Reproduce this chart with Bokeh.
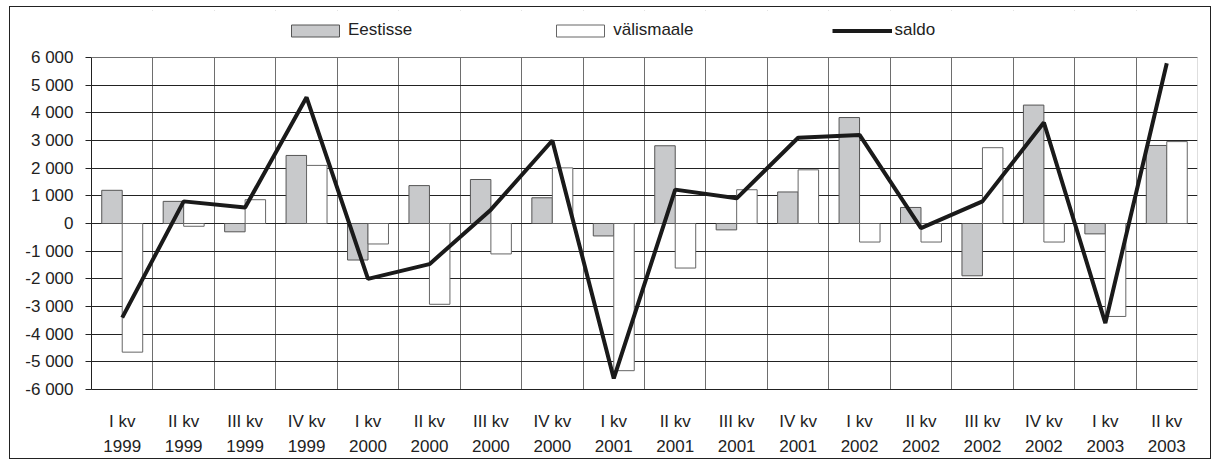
from bokeh.plotting import figure
from bokeh.models import (FactorRange, Range1d, FixedTicker, Legend, LegendItem,
                          ColumnDataSource, BoxAnnotation)
from bokeh.transform import dodge
from bokeh.embed import file_html
from bokeh.resources import INLINE

quarters = ["I kv", "II kv", "III kv", "IV kv",
            "I kv", "II kv", "III kv", "IV kv",
            "I kv", "II kv", "III kv", "IV kv",
            "I kv", "II kv", "III kv", "IV kv",
            "I kv", "II kv"]
years = ["1999", "1999", "1999", "1999",
         "2000", "2000", "2000", "2000",
         "2001", "2001", "2001", "2001",
         "2002", "2002", "2002", "2002",
         "2003", "2003"]
eestisse = [1200, 800, -300, 2460, -1320, 1370, 1590, 930, -450,
            2810, -230, 1140, 3830, 580, -1890, 4280, -375, 2820]
valismaale = [-4650, -100, 860, 2100, -740, -2920, -1100, 2010, -5320,
              -1610, 1220, 1940, -670, -670, 2740, -670, -3360, 2960]
saldo = [-3400, 800, 580, 4560, -2000, -1470, 500, 3000, -5600,
         1225, 910, 3100, 3200, -170, 800, 3650, -3600, 5790]
y_ticks = list(range(-6000, 6001, 1000))
Y_MIN, Y_MAX = -6000, 6000

categories = [f"{q}\n{y}" for q, y in zip(quarters, years)]
src = ColumnDataSource(dict(cat=categories, eest=eestisse, val=valismaale, saldo=saldo))

FONT = "Liberation Sans"
FS = "17px"

# plot area is 332 px tall; extra 47 px above it hosts the legend
PLOT_H, LEGEND_H = 332, 47
y_top = Y_MAX + (Y_MAX - Y_MIN) * LEGEND_H / PLOT_H

p = figure(width=1202, height=453, output_backend="svg", toolbar_location=None,
           x_range=FactorRange(factors=categories, range_padding=0),
           y_range=Range1d(Y_MIN, y_top),
           min_border_left=81, min_border_right=15, min_border_top=3, min_border_bottom=71,
           styles={"border": "1px solid #222", "margin-left": "9px", "margin-top": "6px"})
p.background_fill_color = "white"
p.border_fill_color = "white"
p.outline_line_color = None

r1 = p.vbar(x=dodge("cat", -1/6, range=p.x_range), top="eest", width=1/3, source=src,
            fill_color="#c8c9cb", line_color="#555555", line_width=1)
r2 = p.vbar(x=dodge("cat", 1/6, range=p.x_range), top="val", width=1/3, source=src,
            fill_color="white", line_color="#666666", line_width=1)
r3 = p.line(x="cat", y="saldo", source=src, line_color="#1a1a1a", line_width=4)

# grids
p.ygrid.ticker = FixedTicker(ticks=y_ticks)
p.ygrid.grid_line_color = "#222222"
p.ygrid.grid_line_width = 1
p.xgrid.ticker = FixedTicker(ticks=list(range(len(categories) + 1)))
p.xgrid.grid_line_color = "#6e6e6e"
p.xgrid.grid_line_width = 1

# blank the strip above the plot area (legend strip) and draw the plot-area border
p.add_layout(BoxAnnotation(bottom=Y_MAX, fill_color="white", fill_alpha=1,
                           line_alpha=0))
p.add_layout(BoxAnnotation(bottom=Y_MIN, top=Y_MAX, fill_alpha=0,
                           line_color="#222222", line_width=1))

# y axis
p.yaxis.ticker = FixedTicker(ticks=y_ticks)
p.yaxis.bounds = (Y_MIN, Y_MAX)
p.yaxis.major_label_overrides = {t: f"{t:,}".replace(",", " ") for t in y_ticks}
p.yaxis.minor_tick_line_color = None
p.yaxis.major_tick_out = 6
p.yaxis.major_tick_in = 0
p.yaxis.major_label_standoff = 12
p.yaxis.axis_line_color = "#222"
p.yaxis.major_tick_line_color = "#222"
p.yaxis.major_label_text_font = FONT
p.yaxis.major_label_text_font_size = FS
p.yaxis.major_label_text_color = "#222"

# x axis
p.xaxis.major_tick_line_color = None
p.xaxis.major_tick_out = 0
p.xaxis.major_label_standoff = 22
p.xaxis.axis_line_color = "#222"
p.xaxis.major_label_text_font = FONT
p.xaxis.major_label_text_font_size = FS
p.xaxis.major_label_text_color = "#222"
p.xaxis.major_label_text_line_height = 1.35

legend = Legend(items=[LegendItem(label="Eestisse", renderers=[r1]),
                       LegendItem(label="välismaale", renderers=[r2]),
                       LegendItem(label="saldo", renderers=[r3])],
                orientation="horizontal", location=(194, 349),
                glyph_width=60, glyph_height=15, spacing=138, label_standoff=3,
                padding=0, margin=0, border_line_color=None,
                background_fill_alpha=0,
                label_text_font=FONT, label_text_font_size=FS, label_text_color="#222")
p.add_layout(legend)

open("out.html", "w").write(file_html(p, INLINE))
